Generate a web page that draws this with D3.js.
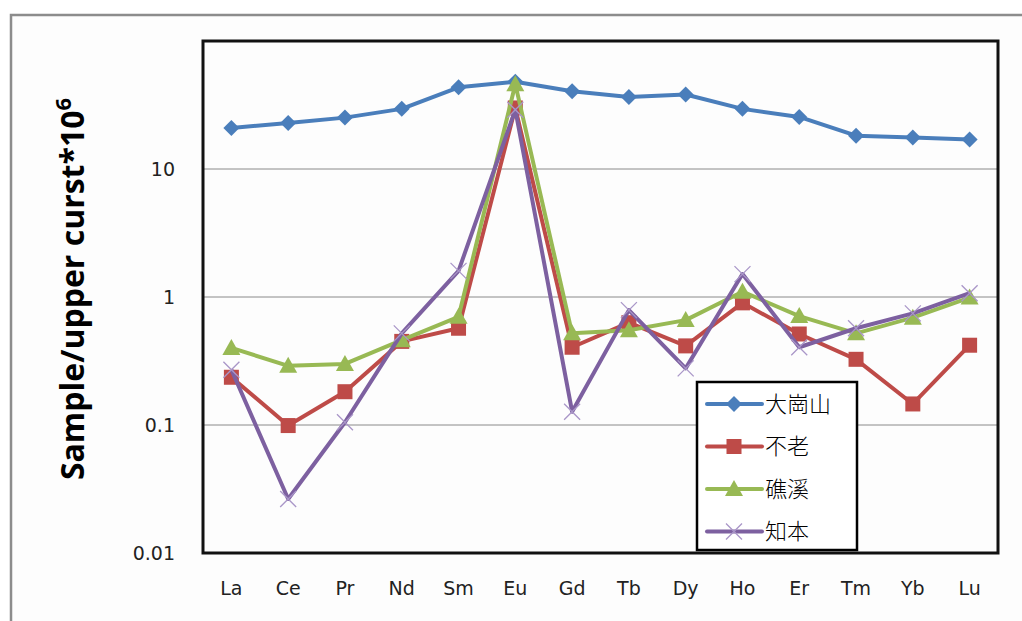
<!DOCTYPE html>
<html>
<head>
<meta charset="utf-8">
<style>
  body { margin: 0; background: #fff; }
</style>
</head>
<body>
<svg width="1022" height="621"></svg>
<script src="https://d3js.org/d3.v7.min.js"></script>
<script>

var elements = ["La", "Ce", "Pr", "Nd", "Sm", "Eu", "Gd", "Tb", "Dy", "Ho", "Er", "Tm", "Yb", "Lu"];

var dagangshan = [20.9, 22.9, 25.2, 29.5, 43.5, 48, 40.5, 36.5, 38.2, 29.5, 25.5, 18.2, 17.6, 17.0];
var bulao      = [0.236, 0.099, 0.182, 0.45, 0.57, 30, 0.405, 0.63, 0.415, 0.9, 0.514, 0.326, 0.146, 0.42];
var jiaoxi     = [0.40, 0.29, 0.30, 0.46, 0.70, 46, 0.52, 0.55, 0.66, 1.10, 0.71, 0.52, 0.69, 0.99];
var zhiben     = [0.27, 0.0264, 0.105, 0.52, 1.6, 29, 0.127, 0.79, 0.277, 1.51, 0.405, 0.57, 0.745, 1.07];

var yTicks = [0.01, 0.1, 1, 10];

var series = [
  {name: "大崗山", values: dagangshan, color: "#4a7ebb", marker: "diamond"},
  {name: "不老",   values: bulao,      color: "#be4b48", marker: "square"},
  {name: "礁溪",   values: jiaoxi,     color: "#98b954", marker: "triangle"},
  {name: "知本",   values: zhiben,     color: "#7d60a0", marker: "cross"}
];

var svg = d3.select("svg"),
    margin = {top: 41, left: 203, right: 24, bottom: 68},
    width = +svg.attr("width") - margin.left - margin.right,
    height = +svg.attr("height") - margin.top - margin.bottom;

// outer chart frame
svg.append("rect")
    .attr("x", 11).attr("y", 15)
    .attr("width", 1030).attr("height", 640)
    .attr("fill", "#fdfdfd")
    .attr("stroke", "#8c8c8c")
    .attr("stroke-width", 2.5);

var g = svg.append("g").attr("transform", "translate(" + margin.left + "," + margin.top + ")");

var x = d3.scaleBand().domain(elements).range([0, width]);
var y = d3.scaleLog().domain([0.01, 100]).range([height, 0]);

// gridlines
g.append("g")
  .selectAll("line")
  .data(yTicks.slice(1))
  .enter().append("line")
    .attr("x1", 0).attr("x2", width)
    .attr("y1", function(d) { return y(d); })
    .attr("y2", function(d) { return y(d); })
    .attr("stroke", "#8a8a8a")
    .attr("stroke-width", 1);

// y tick labels
var yAxis = g.append("g")
    .call(d3.axisLeft(y).tickValues(yTicks).tickFormat(function(d) { return String(d); }).tickSize(0).tickPadding(28));
yAxis.select(".domain").remove();
yAxis.selectAll("text")
    .attr("font-family", "DejaVu Sans, sans-serif")
    .attr("font-size", 19)
    .attr("fill", "#222");

// x tick labels
var xAxis = g.append("g")
    .attr("transform", "translate(0," + height + ")")
    .call(d3.axisBottom(x).tickSize(0).tickPadding(29));
xAxis.select(".domain").remove();
xAxis.selectAll("text")
    .attr("font-family", "DejaVu Sans, sans-serif")
    .attr("font-size", 19)
    .attr("fill", "#222");

// y title
var title = svg.append("text")
    .attr("transform", "translate(84," + (margin.top + height / 2 - 8) + ") rotate(-90)")
    .attr("text-anchor", "middle")
    .attr("font-family", "Open Sans, sans-serif")
    .attr("font-weight", "bold")
    .attr("font-size", 32)
    .attr("fill", "#000");
title.append("tspan").text("Sample/upper curst*10");
title.append("tspan").attr("dy", -13).attr("font-size", 22).text("6");

var line = d3.line()
    .x(function(d, i) { return x(elements[i]) + x.bandwidth() / 2; })
    .y(function(d) { return y(d); });

function drawMarker(sel, type, color) {
  if (type === "diamond") {
    sel.append("path").attr("d", "M0,-8L8,0L0,8L-8,0Z").attr("fill", color);
  } else if (type === "square") {
    sel.append("rect").attr("x", -7.5).attr("y", -7.5).attr("width", 15).attr("height", 15).attr("fill", color);
  } else if (type === "triangle") {
    sel.append("path").attr("d", "M0,-9L9,7L-9,7Z").attr("fill", color);
  } else {
    sel.append("path").attr("d", "M-8,-8L8,8M-8,8L8,-8").attr("stroke", "#a996c8").attr("stroke-width", 1.3).attr("fill", "none");
  }
}

series.forEach(function(s) {
  var sg = g.append("g");
  sg.append("path")
      .datum(s.values)
      .attr("fill", "none")
      .attr("stroke", s.color)
      .attr("stroke-width", 4)
      .attr("stroke-linejoin", "round")
      .attr("d", line);
  sg.selectAll(".m")
    .data(s.values)
    .enter().append("g")
      .attr("transform", function(d, i) { return "translate(" + (x(elements[i]) + x.bandwidth() / 2) + "," + y(d) + ")"; })
      .each(function() { drawMarker(d3.select(this), s.marker, s.color); });
});

// plot border
g.append("rect")
    .attr("x", 0).attr("y", 0)
    .attr("width", width).attr("height", height)
    .attr("fill", "none")
    .attr("stroke", "#111")
    .attr("stroke-width", 3);

// legend
var lx = 697 - margin.left, ly = 382 - margin.top;
var legend = g.append("g").attr("transform", "translate(" + lx + "," + ly + ")");
legend.append("rect")
    .attr("width", 160).attr("height", 168)
    .attr("fill", "#fff")
    .attr("stroke", "#000")
    .attr("stroke-width", 2.5);
series.forEach(function(s, i) {
  var row = legend.append("g").attr("transform", "translate(0," + (22 + i * 42.5) + ")");
  row.append("line")
      .attr("x1", 10).attr("x2", 65)
      .attr("stroke", s.color).attr("stroke-width", 4).attr("stroke-linecap", "round");
  drawMarker(row.append("g").attr("transform", "translate(37,0)"), s.marker, s.color);
  row.append("text")
      .attr("x", 68).attr("dy", "0.36em")
      .attr("font-family", "Noto Sans CJK TC, sans-serif")
      .attr("font-weight", 300)
      .attr("font-size", 22)
      .attr("fill", "#000")
      .text(s.name);
});

</script>
</body>
</html>
